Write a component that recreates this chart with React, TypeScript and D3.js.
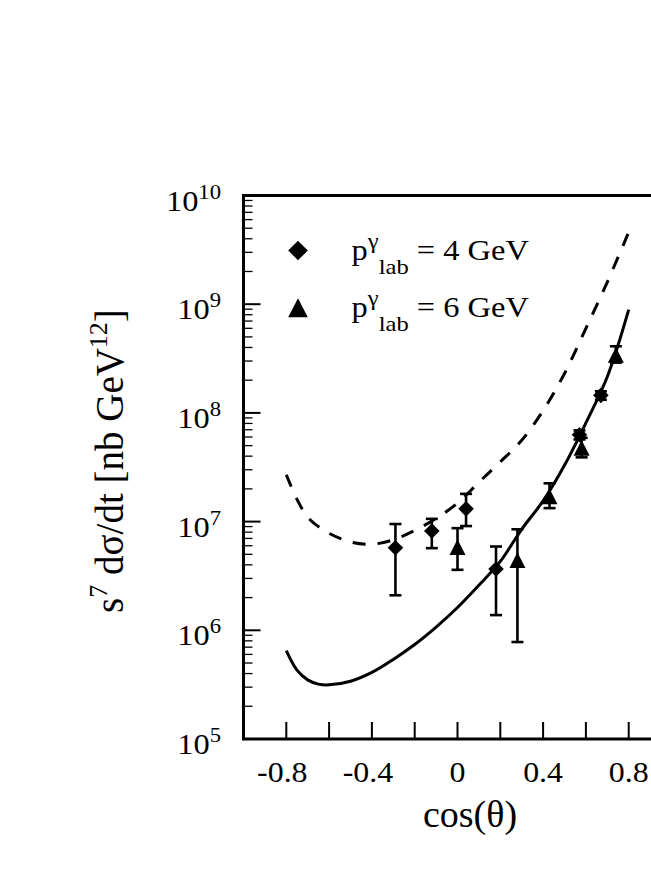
import React from 'react'
import * as d3 from 'd3'

const width = 651
const height = 888
const plot = { left: 243.5, right: 671.5, top: 195.5, bottom: 739 }

// theory curves, sampled on the same cos(theta) grid
const curveCos = [-0.8, -0.75, -0.7, -0.65, -0.6, -0.5, -0.4, -0.3, -0.2, -0.1, 0, 0.1, 0.2, 0.3, 0.4, 0.5, 0.6, 0.7, 0.8]
const solidValues = [6.5e5, 4.3e5, 3.5e5, 3.2e5, 3.15e5, 3.4e5, 4.1e5, 5.4e5, 7.4e5, 1.07e6, 1.62e6, 2.6e6, 4.3e6, 8.5e6, 1.55e7, 3.3e7, 8.1e7, 2.15e8, 8.9e8]
const dashedValues = [2.7e7, 1.6e7, 1.1e7, 9.0e6, 7.8e6, 6.5e6, 6.2e6, 6.8e6, 8.3e6, 1.07e7, 1.48e7, 2.3e7, 3.55e7, 5.6e7, 1.05e8, 2.3e8, 6.0e8, 1.6e9, 4.6e9]

// p_lab = 4 GeV (diamonds)
const diamondCos = [-0.29, -0.12, 0.04, 0.18, 0.57, 0.67]
const diamondValues = [5.75e6, 8.2e6, 1.31e7, 3.66e6, 6.3e7, 1.45e8]
const diamondHi = [9.5e6, 1.06e7, 1.8e7, 5.9e6, 6.9e7, 1.58e8]
const diamondLo = [2.1e6, 5.7e6, 9.1e6, 1.38e6, 5.7e7, 1.32e8]

// p_lab = 6 GeV (triangles)
const triangleCos = [0.0, 0.28, 0.43, 0.58, 0.74]
const triangleValues = [5.8e6, 4.4e6, 1.7e7, 4.75e7, 3.4e8]
const triangleHi = [8.7e6, 8.5e6, 2.25e7, 5.9e7, 4.1e8]
const triangleLo = [3.6e6, 7.8e5, 1.33e7, 3.9e7, 2.9e8]

const xTicks = [-0.8, -0.6, -0.4, -0.2, 0, 0.2, 0.4, 0.6, 0.8, 1.0]
const xTickLabels = ['-0.8', '-0.4', '0', '0.4', '0.8']
const yDecades = [5, 6, 7, 8, 9, 10]
const legendLabels = ['4', '6']

const font = '"Liberation Serif", "Times New Roman", serif'

const diamondPath = (cx: number, cy: number, r: number) =>
  `M${cx},${cy - r}L${cx + r},${cy}L${cx},${cy + r}L${cx - r},${cy}Z`
const trianglePath = (cx: number, cy: number, r: number) =>
  `M${cx},${cy - r}L${cx + r},${cy + r * 0.95}L${cx - r},${cy + r * 0.95}Z`

const App: React.FC = () => {
  const x = d3.scaleLinear().domain([-1, 1]).range([plot.left, plot.right])
  const y = d3.scaleLog().domain([1e5, 1e10]).range([plot.bottom, plot.top])

  const line = d3
    .line<[number, number]>()
    .x((d) => x(d[0]))
    .y((d) => y(d[1]))
    .curve(d3.curveCatmullRom.alpha(0.5))

  const solid = line(curveCos.map((c, i) => [c, solidValues[i]]))
  const dashed = line(curveCos.map((c, i) => [c, dashedValues[i]]))

  const minorTicks: number[] = []
  yDecades.slice(0, -1).forEach((d) => {
    for (let m = 2; m <= 9; m++) minorTicks.push(m * Math.pow(10, d))
  })

  const errorBar = (c: number, lo: number, hi: number, key: string) => (
    <g key={key} stroke="#000" strokeWidth={2.6}>
      <line x1={x(c)} x2={x(c)} y1={y(lo)} y2={y(hi)} />
      <line x1={x(c) - 6} x2={x(c) + 6} y1={y(lo)} y2={y(lo)} />
      <line x1={x(c) - 6} x2={x(c) + 6} y1={y(hi)} y2={y(hi)} />
    </g>
  )

  return (
    <svg
      width={width}
      height={height}
      style={{ position: 'absolute', left: 0, top: 0, background: '#fff' }}
      fontFamily={font}
    >
      {/* frame */}
      <rect
        x={plot.left}
        y={plot.top}
        width={plot.right - plot.left}
        height={plot.bottom - plot.top}
        fill="none"
        stroke="#000"
        strokeWidth={3}
      />

      {/* y ticks */}
      {minorTicks.map((v) => (
        <line key={'m' + v} x1={plot.left} x2={plot.left + 9} y1={y(v)} y2={y(v)} stroke="#000" strokeWidth={1.3} />
      ))}
      {yDecades.map((d) => (
        <line key={'M' + d} x1={plot.left} x2={plot.left + 17} y1={y(Math.pow(10, d))} y2={y(Math.pow(10, d))} stroke="#000" strokeWidth={2} />
      ))}
      {yDecades.map((d) => (
        <text
          key={'yl' + d}
          transform={`translate(221,${y(Math.pow(10, d)) + 15}) scale(1.08,1)`}
          textAnchor="end"
          fontSize={30}
        >
          10
          <tspan fontSize={21} dy={-12}>
            {d}
          </tspan>
        </text>
      ))}

      {/* x ticks */}
      {xTicks.map((t) => (
        <line key={'xt' + t} x1={x(t)} x2={x(t)} y1={plot.bottom} y2={plot.bottom - 17} stroke="#000" strokeWidth={2} />
      ))}
      {xTickLabels.map((l) => (
        <text
          key={'xl' + l}
          transform={`translate(${x(+l) - (l.startsWith('-') ? 4 : 0)},782) scale(1.1,1)`}
          textAnchor="middle"
          fontSize={29}
        >
          {l}
        </text>
      ))}

      {/* axis titles */}
      <text x={470} y={827} textAnchor="middle" fontSize={38}>
        cos(θ)
      </text>
      <text transform="translate(123,461) rotate(-90)" textAnchor="middle" fontSize={39}>
        s
        <tspan fontSize={26} dy={-16}>
          7
        </tspan>
        <tspan dy={16}> dσ/dt [nb GeV</tspan>
        <tspan fontSize={26} dy={-16}>
          12
        </tspan>
        <tspan dy={16}>]</tspan>
      </text>

      {/* theory curves */}
      <path d={dashed ?? ''} fill="none" stroke="#000" strokeWidth={3} strokeDasharray="13,12" />
      <path d={solid ?? ''} fill="none" stroke="#000" strokeWidth={3} />

      {/* data */}
      {diamondCos.map((c, i) => errorBar(c, diamondLo[i], diamondHi[i], 'de' + i))}
      {triangleCos.map((c, i) => errorBar(c, triangleLo[i], triangleHi[i], 'te' + i))}
      {diamondCos.map((c, i) => (
        <path key={'d' + i} d={diamondPath(x(c), y(diamondValues[i]), 7.8)} fill="#000" />
      ))}
      {triangleCos.map((c, i) => (
        <path key={'t' + i} d={trianglePath(x(c), y(triangleValues[i]), 8)} fill="#000" />
      ))}

      {/* legend */}
      <path d={diamondPath(298, 250.5, 9.8)} fill="#000" />
      <path d={trianglePath(298, 308, 9.8)} fill="#000" />
      {legendLabels.map((l, i) => (
        <text key={'lg' + l} transform={`translate(351.5,${260 + i * 56.7}) scale(1.12,1)`} fontSize={29}>
          p
          <tspan fontSize={22} dy={-12}>
            γ
          </tspan>
          <tspan fontSize={22} dy={26}>
            lab
          </tspan>
          <tspan dy={-14}>{` = ${l} GeV`}</tspan>
        </text>
      ))}
    </svg>
  )
}

export default App
